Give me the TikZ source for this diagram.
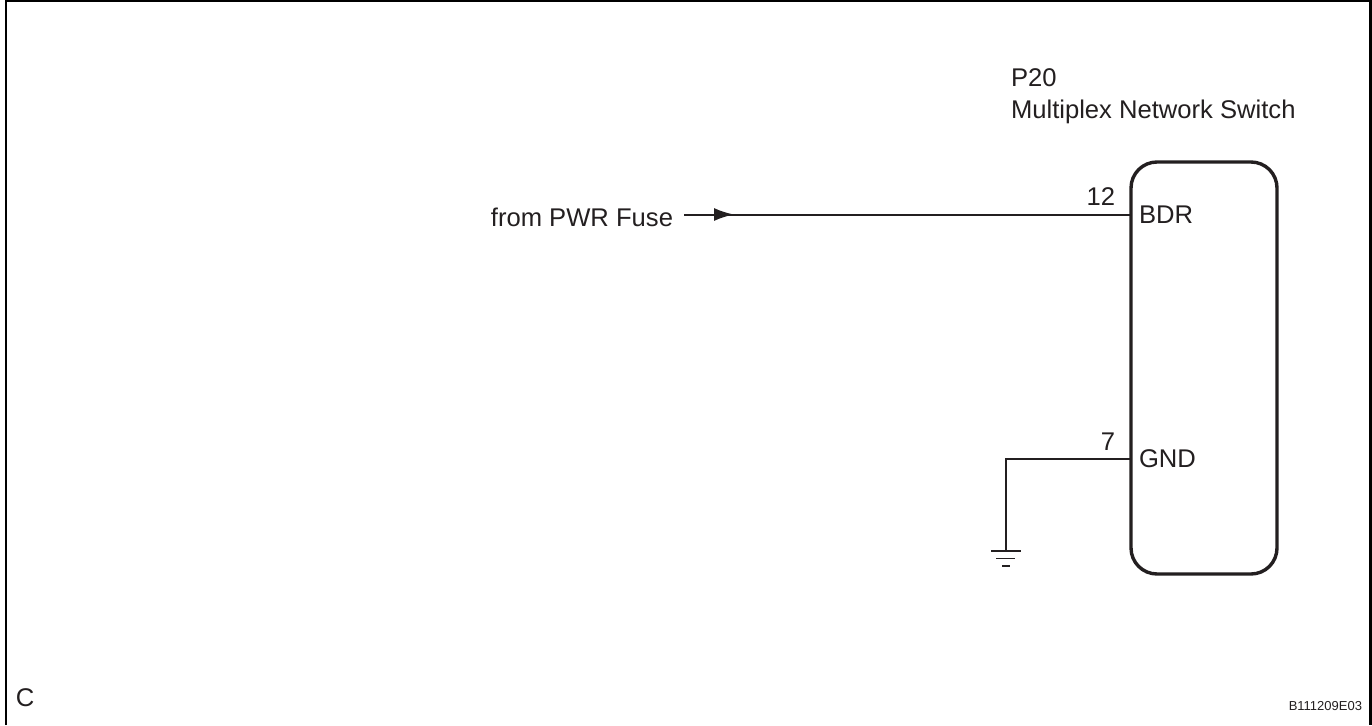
\documentclass[tikz,border=0pt]{standalone}
\usepackage{fontspec}
\setmainfont{Liberation Sans}
\usetikzlibrary{arrows.meta,decorations.markings}
\definecolor{ink}{HTML}{231F20}
\tikzset{
  lbl/.style={inner sep=0pt,outer sep=0pt,text=ink,font=\fontsize{25.6}{30}\selectfont},
  wire/.style={draw=ink,line width=2pt},
  unitbox/.style={draw=ink,line width=3.4pt,rounded corners=26pt,minimum width=146pt,minimum height=412pt,inner sep=0pt,outer sep=0pt},
  gndbar/.style={draw=ink,line width=1.8pt},
  flowarrow/.style={postaction={decorate},decoration={markings,mark=at position 50pt with {\arrow{Latex[length=20pt,width=13pt,ink]}}}}
}
\begin{document}
\begin{tikzpicture}[x=1pt,y=-1pt]
\useasboundingbox (0,0) rectangle (1372,725);
\fill[white] (0,0) rectangle (1372,725);
\draw[black,line width=2.6pt] (6,725) -- (6,1.2) -- (1370.5,1.2) -- (1370.5,725);
\node[unitbox] (sw) at (1204,368) {};
\coordinate (bdr) at (1131,214.5);
\coordinate (gnd) at (1131,459);
\coordinate (src) at (684,214.5);
\coordinate (corner) at (1005.5,459);
\coordinate (gtop) at (1005.5,551);
\draw[wire,flowarrow] (src) -- (bdr);
\draw[wire] (gnd) -- (corner) -- (gtop);
\coordinate (g1a) at (991,551); \coordinate (g1b) at (1021,551);
\coordinate (g2a) at (996,558.5); \coordinate (g2b) at (1015,558.5);
\coordinate (g3a) at (1002,566); \coordinate (g3b) at (1010,566);
\draw[gndbar,line width=2.8pt] (g1a) -- (g1b);
\draw[gndbar] (g2a) -- (g2b);
\draw[gndbar] (g3a) -- (g3b);
\node[lbl,anchor=base west] (p20) at (1011,86) {P20};
\node[lbl,anchor=base west] (name) at (1011,118) {Multiplex Network Switch};
\node[lbl,anchor=base east] (n12) at (1115,205) {12};
\node[lbl,anchor=base east] (n7) at (1115,450) {7};
\node[lbl,anchor=base west] (tb) at (1139,223) {BDR};
\node[lbl,anchor=base west] (tg) at (1139,467) {GND};
\node[lbl,anchor=base east] (from) at (673,226) {from PWR Fuse};
\node[lbl,anchor=base west] (c) at (16,706) {C};
\node[lbl,anchor=base east,font=\fontsize{13}{15}\selectfont] (code) at (1362,710) {B111209E03};
\end{tikzpicture}
\end{document}
